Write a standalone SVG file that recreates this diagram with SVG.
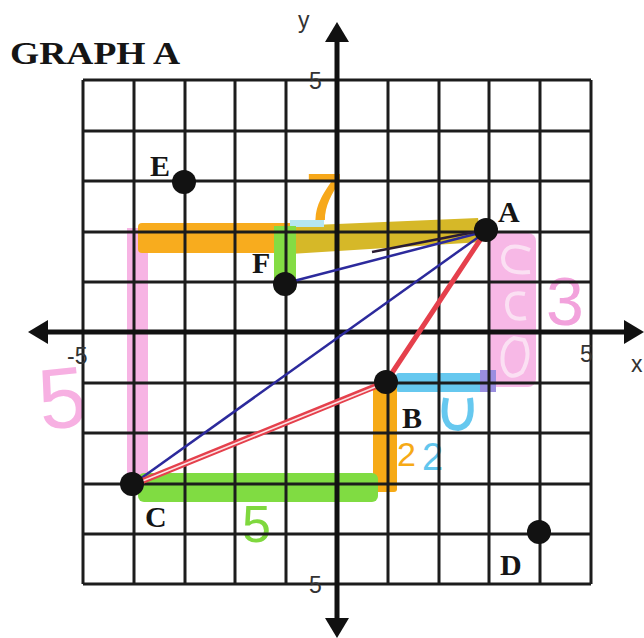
<svg xmlns="http://www.w3.org/2000/svg" width="644" height="638" viewBox="0 0 644 638">
<defs>
<style>
.grid{stroke:#1c1c1c;stroke-width:3;fill:none}
.axis{stroke:#111;stroke-width:5;fill:none}
.lbl{font-family:"Liberation Serif",serif;font-weight:bold;font-size:30px;fill:#151515}
.num{font-family:"Liberation Sans",Arial,sans-serif;font-size:23px;fill:#333}
.hand{font-family:"Liberation Sans",Arial,sans-serif}
.dot{fill:#121212}
.navy{stroke:#2c2a9c;stroke-width:2.5;fill:none}
.red{stroke:#e5404c;fill:none;stroke-linecap:round}
</style>
</defs>
<rect width="644" height="638" fill="#ffffff"/>
<text x="10" y="64" font-family="Liberation Serif,serif" font-weight="bold" font-size="32" fill="#151515" textLength="170" lengthAdjust="spacingAndGlyphs">GRAPH A</text>

<g id="highlights">
<rect x="127" y="228" width="21" height="254" fill="#f7b4e4"/>
<rect x="138" y="223" width="160" height="30" rx="4" fill="#f8ac1e"/>
<polygon points="290,226 478,218 482,242 290,254" fill="#d6b828"/>
<rect x="290" y="220" width="34" height="7" fill="#b5e6f2"/>
<rect x="274" y="226" width="22" height="64" fill="#84dc44"/>
<rect x="488" y="233" width="48" height="154" rx="8" fill="#f7b8e6"/>
<path d="M530 250 Q505 240 503 258 Q503 275 530 272M525 294 Q507 290 507 305 Q508 322 526 318M514 338 Q500 345 503 365 Q508 382 522 372 Q532 355 524 340 Z" fill="none" stroke="#fbe0f3" stroke-width="4"/>
<rect x="396" y="373" width="100" height="19" rx="3" fill="#66c8ef"/>
<rect x="480" y="370" width="16" height="22" fill="#9a8ee0"/>
<path d="M446 398 Q440 428 458 428 Q474 426 470 398" fill="none" stroke="#66c8ef" stroke-width="6"/>
<rect x="373" y="386" width="24" height="106" rx="3" fill="#f6aa16"/>
<rect x="138" y="473" width="240" height="29" rx="6" fill="#80dc42"/>
</g>

<g id="handwriting">
<text class="hand" x="38" y="428" font-size="86" fill="#f7b0e2" transform="rotate(-6 60 395)">5</text>
<text class="hand" x="546" y="325" font-size="68" fill="#f2a2dc">3</text>
<text class="hand" x="242" y="542" font-size="52" fill="#7fd83e">5</text>
<text class="hand" x="422" y="470" font-size="38" fill="#62c6ee">2</text>
<text class="hand" x="397" y="466" font-size="34" fill="#f6aa16">2</text>
<text class="hand" x="306" y="220" font-size="66" font-weight="bold" fill="#f7a81a">7</text>
</g>

<g id="grid">
<path class="grid" d="M83 80V584M134 80V584M185 80V584M235 80V584M286 80V584M388 80V584M439 80V584M489 80V584M540 80V584M591 80V584M83 80H591M83 131H591M83 181H591M83 232H591M83 282H591M83 383H591M83 433H591M83 484H591M83 534H591M83 584H591"/>
</g>

<g id="axes">
<path class="axis" d="M40 332H632M337 34V626"/>
<polygon points="28,332 48,320 48,344" fill="#111"/>
<polygon points="644,332 624,320 624,344" fill="#111"/>
<polygon points="337,22 325,42 349,42" fill="#111"/>
<polygon points="337,638 325,618 349,618" fill="#111"/>
<text class="num" x="298" y="28" font-size="24">y</text>
<text class="num" x="631" y="372" font-size="20">x</text>
<text class="num" x="67" y="364">-5</text>
<text class="num" x="580" y="362">5</text>
<text class="num" x="309" y="89">5</text>
<text class="num" x="309" y="593">5</text>
</g>

<g id="connectors">
<line class="navy" x1="286" y1="283" x2="487" y2="231"/>
<line class="navy" x1="133" y1="484" x2="487" y2="231"/>
<line x1="372" y1="252" x2="485" y2="230" stroke="#2a1c34" stroke-width="2.5"/>
<line class="red" x1="135" y1="484" x2="386" y2="382" stroke-width="6"/>
<line x1="140" y1="482" x2="380" y2="385" stroke="#ffffff" stroke-width="1.5" opacity="0.85"/>
<line class="red" x1="386" y1="382" x2="486" y2="231" stroke-width="5"/>
</g>

<g id="node-A"><circle class="dot" cx="486" cy="230" r="12"/><text class="lbl" x="498" y="222">A</text></g>
<g id="node-B"><circle class="dot" cx="386" cy="382" r="12"/><text class="lbl" x="402" y="428">B</text></g>
<g id="node-C"><circle class="dot" cx="132" cy="484" r="12"/><text class="lbl" x="145" y="527">C</text></g>
<g id="node-D"><circle class="dot" cx="539" cy="532" r="12"/><text class="lbl" x="500" y="575">D</text></g>
<g id="node-E"><circle class="dot" cx="184" cy="182" r="12"/><text class="lbl" x="150" y="176">E</text></g>
<g id="node-F"><circle class="dot" cx="285" cy="284" r="12"/><text class="lbl" x="252" y="273">F</text></g>
</svg>
